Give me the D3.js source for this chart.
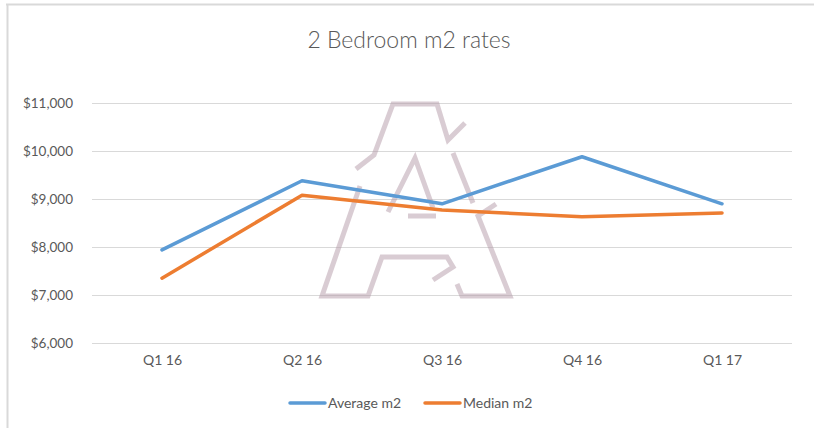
<html>
<head>
<title>2 Bedroom m2 rates</title>
<script src="https://d3js.org/d3.v7.min.js" charset="utf-8"></script>
<style>
body { margin: 0; background: white; font-family: "Lato", "Open Sans", sans-serif; }
.tick text { fill: #595959; }
</style>
</head>
<body>
<script>
// data
var quarters = ["Q1 16", "Q2 16", "Q3 16", "Q4 16", "Q1 17"];
var averageM2 = [7940, 9380, 8900, 9880, 8900];
var medianM2 = [7350, 9080, 8770, 8630, 8710];
var yTicks = [6000, 7000, 8000, 9000, 10000, 11000];
var seriesNames = ["Average m2", "Median m2"];
var seriesColors = ["#5B9BD5", "#ED7D31"];

var width = 814, height = 428;
var plotLeft = 92, plotRight = 792, plotTop = 103, plotBottom = 343;

var svg = d3.select("body").append("svg")
  .attr("width", width)
  .attr("height", height);

// chart frame (only top and left edges are visible)
svg.append("line").attr("x1", 6).attr("x2", width).attr("y1", 4.5).attr("y2", 4.5)
  .attr("stroke", "#d9d9d9").attr("stroke-width", 2);
svg.append("line").attr("x1", 7.5).attr("x2", 7.5).attr("y1", 4).attr("y2", height)
  .attr("stroke", "#d9d9d9").attr("stroke-width", 2);

svg.append("text")
  .attr("x", 409).attr("y", 48)
  .attr("text-anchor", "middle")
  .attr("font-size", 23)
  .attr("font-weight", 300)
  .attr("fill", "#595959")
  .text("2 Bedroom m2 rates");

var x = d3.scalePoint().domain(quarters).range([plotLeft, plotRight]).padding(0.5);
var y = d3.scaleLinear().domain([6000, 11000]).range([plotBottom, plotTop]);

// gridlines + y labels
var yAxis = svg.append("g")
  .attr("transform", "translate(" + plotLeft + ",0)")
  .call(d3.axisLeft(y).tickValues(yTicks).tickSize(-(plotRight - plotLeft)).tickPadding(19)
    .tickFormat(function(d) { return "$" + d3.format(",")(d); }));
yAxis.attr("font-family", null);
yAxis.select(".domain").remove();
yAxis.selectAll(".tick line").attr("stroke", "#d9d9d9");
yAxis.selectAll(".tick text").attr("font-size", 13.5);

var xAxis = svg.append("g")
  .attr("transform", "translate(0," + plotBottom + ")")
  .call(d3.axisBottom(x).tickSize(0).tickPadding(12));
xAxis.attr("font-family", null);
xAxis.select(".domain").remove();
xAxis.selectAll(".tick text").attr("font-size", 14);

// watermark logo (decoration)
var logo = [
  [[356,169],[374,155],[393,104],[437,104],[448,140],[465,123]],
  [[360,186],[322,296],[368,296],[382,257],[447,257],[453,267],[433,280]],
  [[457,284],[462,296],[510,296],[478,216],[496,204]],
  [[453,153],[473,203]],
  [[388,212],[415,158],[433,208]],
  [[408,216],[436,216]]
];
svg.append("g").selectAll("path")
  .data(logo)
  .enter()
  .append("path")
  .attr("d", d3.line())
  .attr("fill", "none")
  .attr("stroke", "#b49aa8")
  .attr("stroke-opacity", 0.5)
  .attr("stroke-width", 5);

var line = d3.line()
  .x(function(d, i) { return x(quarters[i]); })
  .y(function(d) { return y(d); });

svg.selectAll(".series")
  .data([averageM2, medianM2])
  .enter()
  .append("path")
  .attr("class", "series")
  .attr("d", line)
  .attr("fill", "none")
  .attr("stroke", function(d, i) { return seriesColors[i]; })
  .attr("stroke-width", 3.5)
  .attr("stroke-linejoin", "round")
  .attr("stroke-linecap", "round");

// legend
var legendX = [290, 425];
var legend = svg.selectAll(".legend")
  .data(seriesNames)
  .enter()
  .append("g")
  .attr("transform", function(d, i) { return "translate(" + legendX[i] + ",403)"; });
legend.append("line")
  .attr("x1", 0).attr("x2", 35)
  .attr("stroke", function(d, i) { return seriesColors[i]; })
  .attr("stroke-width", 3.5)
  .attr("stroke-linecap", "round");
legend.append("text")
  .attr("x", 38).attr("y", 5)
  .attr("font-size", 14)
  .attr("fill", "#595959")
  .text(function(d) { return d; });
</script>
</body>
</html>
